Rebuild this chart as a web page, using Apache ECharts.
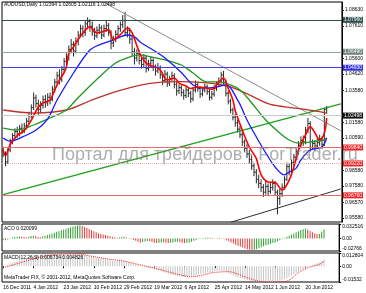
<!DOCTYPE html>
<html><head><meta charset="utf-8">
<script src="https://cdn.jsdelivr.net/npm/echarts@6/dist/echarts.min.js"></script>
<style>html,body{margin:0;padding:0;background:#fff}#c{width:366px;height:293px}</style>
</head><body><div id="c"></div>
<script>
// ---------- DATA ----------
const symbolTitle = 'AUDUSD,Daily';
const tickLabels = ['16 Dec 2011','4 Jan 2012','23 Jan 2012','10 Feb 2012','29 Feb 2012','19 Mar 2012','6 Apr 2012','25 Apr 2012','14 May 2012','1 Jun 2012','20 Jun 2012'];
const barsPerTick = 13;
const totalSlots = 145;

const opens = [0.9985,0.9960,0.9910,0.9985,1.0040,1.0075,1.0100,1.0085,1.0120,1.0105,
1.0135,1.0165,1.0200,1.0250,1.0310,1.0275,1.0240,1.0265,1.0300,1.0280,
1.0315,1.0300,1.0365,1.0410,1.0450,1.0425,1.0490,1.0540,1.0565,1.0615,
1.0645,1.0605,1.0665,1.0705,1.0745,1.0720,1.0775,1.0790,1.0760,1.0725,
1.0700,1.0735,1.0750,1.0705,1.0745,1.0765,1.0720,1.0655,1.0680,1.0710,
1.0745,1.0770,1.0795,1.0720,1.0735,1.0680,1.0600,1.0560,1.0590,1.0545,
1.0520,1.0560,1.0495,1.0525,1.0545,1.0505,1.0480,1.0500,1.0455,1.0420,
1.0460,1.0405,1.0430,1.0450,1.0395,1.0355,1.0375,1.0345,1.0325,1.0360,
1.0340,1.0305,1.0360,1.0395,1.0370,1.0335,1.0360,1.0380,1.0350,1.0315,
1.0335,1.0370,1.0395,1.0415,1.0455,1.0410,1.0340,1.0290,1.0235,1.0190,
1.0155,1.0115,1.0080,1.0035,0.9995,0.9960,0.9925,0.9885,0.9845,0.9800,
0.9775,0.9750,0.9720,0.9755,0.9725,0.9750,0.9775,0.9720,0.9680,0.9710,
0.9750,0.9800,0.9880,0.9850,0.9905,0.9940,0.9975,1.0015,1.0045,1.0035,
1.0110,1.0150,1.0000,1.0025,1.0010,1.0030,1.0055,1.0020,1.02394];
const highs = [1.0005,0.9975,0.9995,1.0055,1.0090,1.0120,1.0130,1.0140,1.0150,1.0155,
1.0185,1.0225,1.0270,1.0345,1.0330,1.0300,1.0290,1.0325,1.0330,1.0340,
1.0345,1.0385,1.0430,1.0475,1.0490,1.0510,1.0560,1.0590,1.0640,1.0680,
1.0665,1.0690,1.0730,1.0770,1.0765,1.0800,1.0815,1.0805,1.0790,1.0750,
1.0760,1.0775,1.0765,1.0770,1.0795,1.0780,1.0735,1.0700,1.0735,1.0765,
1.0790,1.0830,1.0850,1.0760,1.0750,1.0695,1.0625,1.0615,1.0610,1.0570,
1.0585,1.0575,1.0550,1.0570,1.0560,1.0520,1.0530,1.0515,1.0470,1.0485,
1.0475,1.0450,1.0475,1.0465,1.0410,1.0395,1.0390,1.0365,1.0380,1.0375,
1.0355,1.0380,1.0420,1.0410,1.0385,1.0380,1.0400,1.0395,1.0365,1.0355,
1.0390,1.0415,1.0440,1.0475,1.0480,1.0425,1.0355,1.0305,1.0250,1.0210,
1.0175,1.0135,1.0100,1.0050,1.0020,0.9985,0.9950,0.9905,0.9865,0.9830,
0.9800,0.9770,0.9790,0.9775,0.9780,0.9800,0.9790,0.9735,0.9740,0.9775,
0.9820,0.9905,0.9900,0.9925,0.9960,0.9995,1.0040,1.0070,1.0075,1.0130,
1.0185,1.0165,1.0050,1.0045,1.0060,1.0080,1.0070,1.0250,1.02605];
const lows = [0.9940,0.9882,0.9895,0.9970,1.0020,1.0050,1.0060,1.0070,1.0085,1.0090,
1.0115,1.0150,1.0185,1.0235,1.0250,1.0205,1.0215,1.0245,1.0250,1.0260,
1.0270,1.0290,1.0345,1.0395,1.0395,1.0410,1.0470,1.0505,1.0545,1.0590,
1.0570,1.0590,1.0640,1.0690,1.0690,1.0700,1.0745,1.0725,1.0700,1.0675,
1.0685,1.0710,1.0680,1.0690,1.0725,1.0700,1.0615,1.0630,1.0660,1.0690,
1.0725,1.0750,1.0705,1.0690,1.0650,1.0575,1.0520,1.0540,1.0520,1.0495,
1.0505,1.0470,1.0480,1.0500,1.0480,1.0450,1.0465,1.0430,1.0390,1.0405,
1.0380,1.0385,1.0415,1.0370,1.0325,1.0335,1.0320,1.0300,1.0310,1.0315,
1.0280,1.0290,1.0345,1.0350,1.0310,1.0320,1.0345,1.0330,1.0295,1.0300,
1.0320,1.0355,1.0380,1.0400,1.0395,1.0320,1.0270,1.0215,1.0170,1.0130,
1.0095,1.0060,1.0010,0.9970,0.9935,0.9900,0.9860,0.9820,0.9775,0.9745,
0.9720,0.9690,0.9705,0.9695,0.9710,0.9730,0.9700,0.9581,0.9640,0.9690,
0.9735,0.9790,0.9825,0.9835,0.9885,0.9920,0.9955,0.9995,1.0010,1.0020,
1.0090,0.9975,0.9985,0.9980,0.9995,1.0010,0.9990,1.0010,1.02116];
const closes = [0.9960,0.9910,0.9985,1.0040,1.0075,1.0100,1.0085,1.0120,1.0105,1.0135,
1.0165,1.0200,1.0250,1.0310,1.0275,1.0240,1.0265,1.0300,1.0280,1.0315,
1.0300,1.0365,1.0410,1.0450,1.0425,1.0490,1.0540,1.0565,1.0615,1.0645,
1.0605,1.0665,1.0705,1.0745,1.0720,1.0775,1.0790,1.0760,1.0725,1.0700,
1.0735,1.0750,1.0705,1.0745,1.0765,1.0720,1.0655,1.0680,1.0710,1.0745,
1.0770,1.0795,1.0720,1.0735,1.0680,1.0600,1.0560,1.0590,1.0545,1.0520,
1.0560,1.0495,1.0525,1.0545,1.0505,1.0480,1.0500,1.0455,1.0420,1.0460,
1.0405,1.0430,1.0450,1.0395,1.0355,1.0375,1.0345,1.0325,1.0360,1.0340,
1.0305,1.0360,1.0395,1.0370,1.0335,1.0360,1.0380,1.0350,1.0315,1.0335,
1.0370,1.0395,1.0415,1.0455,1.0410,1.0340,1.0290,1.0235,1.0190,1.0155,
1.0115,1.0080,1.0035,0.9995,0.9960,0.9925,0.9885,0.9845,0.9800,0.9775,
0.9750,0.9720,0.9755,0.9725,0.9750,0.9775,0.9720,0.9680,0.9710,0.9750,
0.9800,0.9880,0.9850,0.9905,0.9940,0.9975,1.0015,1.0045,1.0035,1.0110,
1.0150,1.0000,1.0025,1.0010,1.0030,1.0055,1.0020,1.0240,1.02498];

// moving averages: [bar index, value]
const maFast = [[0,0.9984],[1,0.9950],[3,1.0020],[6,1.0075],[9,1.0105],[12,1.0172],[15,1.0254],[17,1.0279],[20,1.0298],[22,1.0360],[24,1.0423],[26,1.0470],[27,1.0505],[28,1.0590],[30,1.0630],[31,1.0655],[34,1.0718],[37,1.0756],[40,1.0718],[42,1.0724],[45,1.0737],[47,1.0674],[49,1.0693],[51,1.0724],[53,1.0749],[55,1.0718],[57,1.0640],[59,1.0568],[62,1.0517],[65,1.0505],[67,1.0486],[70,1.0423],[73,1.0436],[75,1.0404],[78,1.0385],[80,1.0370],[83,1.0379],[86,1.0375],[89,1.0365],[92,1.0411],[94,1.0436],[96,1.0370],[98,1.0298],[99,1.0230],[102,1.0110],[105,1.0003],[108,0.9930],[110,0.9830],[113,0.9784],[116,0.9780],[119,0.9734],[122,0.9796],[124,0.9878],[126,0.9984],[129,1.0080],[131,1.0129],[133,1.0091],[135,1.0047],[137,1.0091],[138,1.0185]];
const maMid = [[0,1.0060],[3,1.0040],[8,1.0065],[14,1.0110],[19,1.0180],[23,1.0298],[30,1.0467],[37,1.0611],[41,1.0643],[47,1.0674],[53,1.0705],[56,1.0693],[59,1.0655],[64,1.0611],[69,1.0561],[76,1.0470],[81,1.0392],[85,1.0373],[91,1.0379],[95,1.0392],[100,1.0298],[104,1.0172],[108,1.0066],[112,0.9966],[116,0.9878],[120,0.9828],[122,0.9846],[125,0.9871],[127,0.9922],[131,0.9984],[136,1.0003],[138,1.0060]];
const maSlow = [[0,1.0122],[6,1.0110],[13,1.0141],[20,1.0185],[27,1.0235],[31,1.0298],[41,1.0442],[48,1.0530],[54,1.0568],[58,1.0580],[63,1.0568],[69,1.0549],[76,1.0517],[81,1.0467],[87,1.0411],[92,1.0411],[97,1.0392],[101,1.0361],[105,1.0298],[112,1.0172],[118,1.0091],[122,1.0047],[126,1.0028],[131,1.0035],[137,1.0047],[138,1.0060]];
const maLong = [[0,1.0235],[13,1.0216],[27,1.0235],[38,1.0298],[47,1.0345],[55,1.0379],[62,1.0400],[69,1.0411],[76,1.0413],[83,1.0410],[90,1.0400],[97,1.0380],[105,1.0330],[113,1.0275],[120,1.0255],[128,1.0240],[138,1.0216]];

// trend lines: two anchor points each
const trendUp = [[0,0.9705],[144,1.0273]];
const trendDown = [[41,1.0925],[144,1.0105]];
const trendLow = [[97,0.9531],[144,0.9740]];

// horizontal price levels
const levelValues = [1.0796, 1.0649, 1.0493, 1.02498, 0.9984, 0.9922, 0.9676];

// price axis tick labels
const priceTicks = [0.9558,0.9657,0.9758,0.9858,1.0059,1.0158,1.0358,1.0462,1.0560,1.0761,1.0863];

// Accelerator oscillator
const aco = [-0.0030,-0.0035,-0.0020,0.0010,0.0025,0.0035,0.0040,0.0045,0.0040,0.0035,
0.0030,0.0040,0.0055,0.0065,0.0050,0.0035,0.0030,0.0045,0.0060,0.0080,
0.0095,0.0110,0.0130,0.0150,0.0165,0.0185,0.0200,0.0215,0.0235,0.0250,
0.0265,0.0280,0.0290,0.0295,0.0280,0.0260,0.0240,0.0215,0.0190,0.0165,
0.0140,0.0120,0.0105,0.0090,0.0080,0.0065,0.0050,0.0040,0.0030,0.0020,
0.0025,0.0035,0.0040,0.0025,0.0010,-0.0010,-0.0030,-0.0050,-0.0070,-0.0085,
-0.0075,-0.0065,-0.0055,-0.0060,-0.0075,-0.0090,-0.0100,-0.0095,-0.0085,-0.0080,
-0.0090,-0.0100,-0.0095,-0.0085,-0.0075,-0.0070,-0.0080,-0.0090,-0.0100,-0.0095,
-0.0085,-0.0070,-0.0050,-0.0030,-0.0010,0.0005,0.0015,0.0020,0.0025,0.0020,
0.0015,0.0010,0.0015,0.0020,0.0010,-0.0010,-0.0035,-0.0060,-0.0085,-0.0110,
-0.0135,-0.0160,-0.0180,-0.0200,-0.0220,-0.0235,-0.0250,-0.0260,-0.0250,-0.0235,
-0.0215,-0.0195,-0.0170,-0.0150,-0.0135,-0.0120,-0.0100,-0.0085,-0.0060,-0.0035,
-0.0010,0.0015,0.0040,0.0065,0.0090,0.0115,0.0140,0.0165,0.0190,0.0210,
0.0225,0.0200,0.0170,0.0140,0.0120,0.0100,0.0110,0.0160,0.020099];
const acoTicks = [-0.02766, 0, 0.032516];

// MACD(12,26,9)
const macdMain = [0.0000,0.0005,0.0010,0.0020,0.0030,0.0040,0.0050,0.0058,0.0065,0.0072,
0.0080,0.0088,0.0095,0.0100,0.0105,0.0107,0.0110,0.0112,0.0115,0.0118,
0.0120,0.0122,0.0125,0.0127,0.0128,0.0128,0.0128,0.0127,0.0126,0.0124,
0.0122,0.0118,0.0115,0.0112,0.0110,0.0108,0.0105,0.0100,0.0095,0.0090,
0.0085,0.0080,0.0075,0.0072,0.0068,0.0064,0.0060,0.0056,0.0052,0.0051,
0.0050,0.0050,0.0048,0.0044,0.0040,0.0034,0.0028,0.0022,0.0015,0.0010,
0.0005,-0.0002,-0.0010,-0.0015,-0.0020,-0.0028,-0.0035,-0.0042,-0.0050,-0.0058,
-0.0065,-0.0072,-0.0080,-0.0085,-0.0090,-0.0095,-0.0100,-0.0102,-0.0105,-0.0103,
-0.0100,-0.0095,-0.0090,-0.0085,-0.0080,-0.0075,-0.0070,-0.0065,-0.0060,-0.0058,
-0.0055,-0.0052,-0.0050,-0.0047,-0.0045,-0.0052,-0.0060,-0.0070,-0.0080,-0.0090,
-0.0100,-0.0108,-0.0115,-0.0122,-0.0130,-0.0135,-0.0140,-0.0144,-0.0148,-0.0150,
-0.0153,-0.0153,-0.0153,-0.0152,-0.0150,-0.0150,-0.0150,-0.0150,-0.0148,-0.0142,
-0.0135,-0.0125,-0.0115,-0.0102,-0.0090,-0.0078,-0.0065,-0.0052,-0.0040,-0.0028,
-0.0015,-0.0005,0.0005,0.0012,0.0020,0.0028,0.0035,0.0050,0.006734];
const macdSignal = [[0,-0.0016],[8,0.0038],[16,0.0088],[24,0.0118],[30,0.0120],[33,0.0118],[37,0.0101],[45,0.0070],[52,0.0050],[58,0.0018],[66,-0.0025],[72,-0.0060],[76,-0.0083],[81,-0.0103],[86,-0.0085],[90,-0.0063],[97,-0.0053],[104,-0.0103],[110,-0.0145],[117,-0.0153],[122,-0.0145],[127,-0.0063],[131,-0.0015],[136,0.0018],[138,0.004826]];
const macdTicks = [-0.01532, 0, 0.012804];

// ---------- STYLE ----------
const FONT = '"Liberation Sans", Arial, sans-serif';
const FS = 5;
const levelColors = ['#2f4f4f','#93a59c','#3c3cf0','#c8c8c8','#e86a6a','#f0a8a8','#e86a6a'];
const levelBoxes  = ['#2f4f4f','#6f857c','#3030e0','#111111','#ee2222','#ee2222','#ee2222'];
const levelTypes  = ['solid','solid','solid','solid','solid','dotted','solid'];
const ACO_UP = '#2f9e2f', ACO_DN = '#e03a3a';

// ---------- BUILD ----------
const n = closes.length - 1;
const categories = Array.from({length: totalSlots}, (_, i) =>
  (i % barsPerTick === 0 && tickLabels[i / barsPerTick]) ? tickLabels[i / barsPerTick] : '');
const ohlc = closes.map((c, i) => [i, opens[i], highs[i], lows[i], c]);
const acoData = aco.map((v, i) => ({value: v, itemStyle: {color: (i === 0 || v >= aco[i - 1]) ? ACO_UP : ACO_DN}}));
const isTick = (idx, val) => val !== '';

const chart = echarts.init(document.getElementById('c'), null, {renderer: 'canvas', width: 366, height: 293});

const grids = [
  {left: 2, top: 2, width: 345, height: 220},
  {left: 2, top: 224, width: 345, height: 27},
  {left: 2, top: 253, width: 345, height: 29}
].map(g => Object.assign(g, {show: true, borderColor: '#000', borderWidth: 1, backgroundColor: 'transparent'}));

const xAxes = [0, 1, 2].map(gi => ({
  type: 'category', gridIndex: gi, data: categories, boundaryGap: true,
  axisLine: {show: false},
  axisTick: {show: gi === 2, interval: isTick, alignWithLabel: true, length: 2, lineStyle: {color: '#000'}},
  axisLabel: {show: gi === 2, interval: isTick, align: 'left', fontSize: FS, fontFamily: FONT, color: '#000', margin: 3},
  splitLine: {show: false}
}));

function subAxis(gi, ticks) {
  return {
    type: 'value', gridIndex: gi, position: 'right', min: ticks[0], max: ticks[2],
    axisLine: {show: true, lineStyle: {color: '#000', width: 1}},
    axisTick: {show: true, length: 2, customValues: ticks, lineStyle: {color: '#000'}},
    axisLabel: {show: true, customValues: ticks, fontSize: FS, fontFamily: FONT, color: '#000', margin: 3,
      verticalAlignMinLabel: 'bottom', verticalAlignMaxLabel: 'top',
      formatter: v => v === 0 ? '0.00' : String(v)},
    splitLine: {show: false}
  };
}

const yAxes = [
  {type: 'value', gridIndex: 0, position: 'right', min: 0.9533, max: 1.0912,
   axisLine: {show: true, lineStyle: {color: '#000', width: 1}},
   axisTick: {show: true, length: 2, customValues: priceTicks, lineStyle: {color: '#000'}},
   axisLabel: {show: true, customValues: priceTicks, formatter: v => v.toFixed(5), fontSize: FS, fontFamily: FONT, color: '#000', margin: 3},
   splitLine: {show: false}},
  subAxis(1, acoTicks),
  subAxis(2, macdTicks)
];

const markLineData = levelValues.map((v, i) => ({
  yAxis: v,
  lineStyle: {color: levelColors[i], width: 1, type: levelTypes[i]},
  label: {show: true, position: 'end', distance: 1, formatter: v.toFixed(5), color: '#fff',
    backgroundColor: levelBoxes[i], fontSize: FS, fontFamily: FONT, padding: [1, 1, 0, 1]}
}));

function maLine(data, color, width) {
  return {type: 'line', xAxisIndex: 0, yAxisIndex: 0, data, showSymbol: false, symbol: 'none', smooth: 0.35,
    lineStyle: {color, width}, silent: true, animation: false, z: 4};
}
function trend(data, color, width) {
  return {type: 'line', xAxisIndex: 0, yAxisIndex: 0, data, showSymbol: false, symbol: 'none',
    lineStyle: {color, width}, silent: true, animation: false, z: 3, clip: true};
}

const series = [
  {type: 'line', xAxisIndex: 0, yAxisIndex: 0, data: [], silent: true, animation: false,
   markLine: {silent: true, symbol: ['none', 'none'], animation: false, data: markLineData}, z: 2},
  {type: 'custom', xAxisIndex: 0, yAxisIndex: 0, data: ohlc, encode: {x: 0, y: [1, 2, 3, 4]}, animation: false, silent: true, z: 3, clip: true,
   renderItem: function (params, api) {
     const i = api.value(0);
     const o = api.coord([i, api.value(1)]);
     const h = api.coord([i, api.value(2)]);
     const l = api.coord([i, api.value(3)]);
     const c = api.coord([i, api.value(4)]);
     const x = o[0];
     const st = {stroke: '#2a2a2a', lineWidth: 1};
     return {type: 'group', children: [
       {type: 'line', shape: {x1: x, y1: h[1], x2: x, y2: l[1]}, style: st},
       {type: 'line', shape: {x1: x - 1.2, y1: o[1], x2: x, y2: o[1]}, style: st},
       {type: 'line', shape: {x1: x, y1: c[1], x2: x + 1.2, y2: c[1]}, style: st}
     ]};
   }},
  maLine(maLong, '#c0302a', 1.3),
  maLine(maSlow, '#1e9a1e', 1.3),
  maLine(maMid, '#1a1aff', 1.3),
  maLine(maFast, '#ff0000', 1.6),
  trend(trendUp, '#1aa01a', 1.3),
  trend(trendDown, '#8c8c8c', 1),
  trend(trendLow, '#303030', 1),
  {type: 'bar', xAxisIndex: 1, yAxisIndex: 1, data: acoData, barWidth: 1, animation: false, silent: true},
  {type: 'bar', xAxisIndex: 2, yAxisIndex: 2, data: macdMain, barWidth: 1, itemStyle: {color: '#c4c4c4'}, animation: false, silent: true},
  {type: 'line', xAxisIndex: 2, yAxisIndex: 2, data: macdSignal, showSymbol: false, symbol: 'none', smooth: 0.3,
   lineStyle: {color: '#ff2020', width: 1, type: 'dotted'}, animation: false, silent: true}
];

const last = [opens[n], highs[n], lows[n], closes[n]].map(v => v.toFixed(5)).join(' ');
const graphic = [
  {type: 'text', left: 4, top: 2, z: 50, style: {text: symbolTitle + ' ' + last, font: FS + 'px ' + FONT, fill: '#000'}},
  {type: 'text', left: 4, top: 226, z: 50, style: {text: 'ACO ' + aco[n].toFixed(6), font: FS + 'px ' + FONT, fill: '#000'}},
  {type: 'text', left: 4, top: 255, z: 50, style: {text: 'MACD(12,26,9) ' + macdMain[n].toFixed(6) + ' ' + macdSignal[macdSignal.length - 1][1].toFixed(6), font: FS + 'px ' + FONT, fill: '#000'}},
  {type: 'text', left: 4, top: 275, z: 50, style: {text: 'MetaTrader FIX, © 2001-2012, MetaQuotes Software Corp.', font: FS + 'px ' + FONT, fill: '#000'}},
  {type: 'text', left: 52, top: 146, z: 60, style: {text: 'Портал для трейдеров - ForTrader.ru', font: '18px ' + FONT, fill: 'rgba(120,120,120,0.6)'}}
];

chart.setOption({
  animation: false,
  backgroundColor: '#fff',
  grid: grids, xAxis: xAxes, yAxis: yAxes, series, graphic
});
</script>
</body></html>
